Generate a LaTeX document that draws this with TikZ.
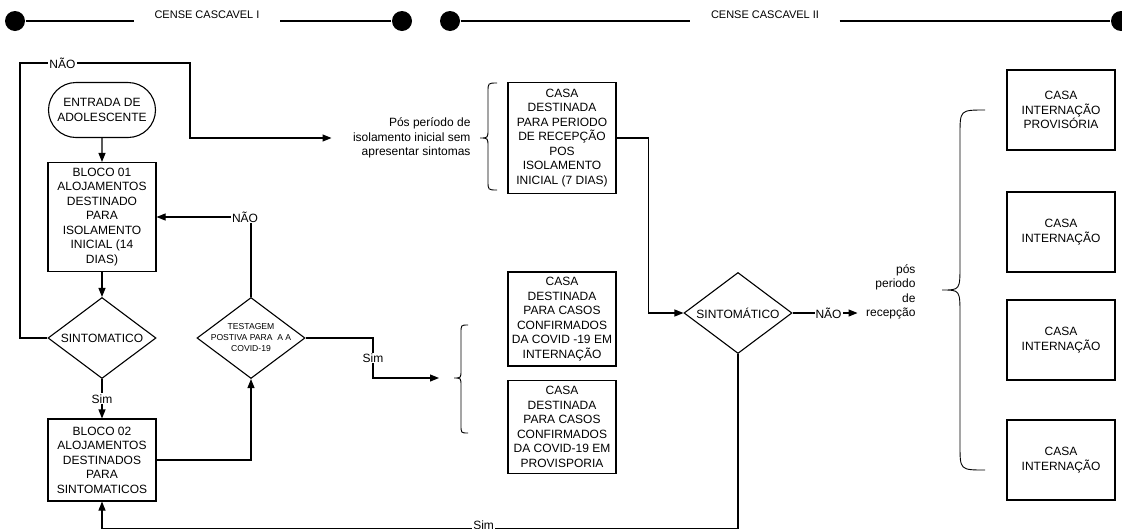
\documentclass[tikz,border=0pt]{standalone}
\usepackage{fontspec}
\setmainfont{Liberation Sans}
\usetikzlibrary{arrows.meta}
\usetikzlibrary{shapes.geometric,shapes.misc}

\begin{document}
\begin{tikzpicture}[x=1pt,y=-1pt,line width=1.1pt,
    font=\fontsize{12}{14.5}\selectfont,
    caixa/.style={draw,rectangle,align=center,minimum width=108pt,inner sep=1pt},
    decisao/.style={draw,diamond,aspect=1.33,minimum width=108pt,minimum height=81pt,inner sep=0pt},
    rotulo/.style={fill=white,inner sep=1pt},
    seta/.style={-{Triangle[length=9pt,width=7pt]}},
    chave/.style={line width=0.9pt},
    ponto/.style={circle,fill=black,minimum size=20pt,inner sep=0pt},
    cabec/.style={font=\fontsize{11}{13}\selectfont,inner xsep=20pt}]
    \useasboundingbox (0,0) rectangle (1122,528);

    % cabecalho
    \node[ponto] (p1) at (15,21) {};
    \node[ponto] (p2) at (402,21) {};
    \node[ponto] (p3) at (450,21) {};
    \node[ponto] (p4) at (1121,21) {};
    \node[cabec] (cab1) at (207,15) {CENSE CASCAVEL I};
    \node[cabec] (cab2) at (765,15) {CENSE CASCAVEL II};
    \draw (p1) -- (p1 -| cab1.west);
    \draw (cab1.east |- p2) -- (p2);
    \draw (p3) -- (p3 -| cab2.west);
    \draw (cab2.east |- p4) -- (p4);

    % cense cascavel I
    \node[draw,rounded rectangle,align=center,minimum width=109pt,minimum height=55pt,inner sep=1pt] (entrada) at (102,110) {ENTRADA DE\\ADOLESCENTE};
    \node[caixa,minimum height=109pt] (bloco1) at (102,217) {BLOCO 01\\ALOJAMENTOS\\DESTINADO\\PARA\\ISOLAMENTO\\INICIAL (14\\DIAS)};
    \node[decisao] (sint1) at (102,338) {SINTOMATICO};
    \node[caixa,minimum height=82pt] (bloco2) at (102,460) {BLOCO 02\\ALOJAMENTOS\\DESTINADOS\\PARA\\SINTOMATICOS};
    \node[decisao] (teste) at (251,338) {};
    \node[align=center,font=\fontsize{8.6}{11}\selectfont] (testetxt) at (teste) {TESTAGEM\\POSTIVA PARA~ A A\\COVID-19};

    \node[align=right,anchor=east,inner sep=1pt] (posiso) at (472,138) {Pós período de\\isolamento inicial sem\\apresentar sintomas};
    \node[caixa,minimum height=111pt] (casa1) at (562,138) {CASA\\DESTINADA\\PARA PERIODO\\DE RECEPÇÃO\\POS\\ISOLAMENTO\\INICIAL (7 DIAS)};
    \node[caixa,minimum height=94pt] (covid1) at (562,319) {CASA\\DESTINADA\\PARA CASOS\\CONFIRMADOS\\DA COVID -19 EM\\INTERNAÇÃO};
    \node[caixa,minimum height=93pt] (covid2) at (562,427) {CASA\\DESTINADA\\PARA CASOS\\CONFIRMADOS\\DA COVID-19 EM\\PROVISPORIA};
    \coordinate (pontaB) at (454,378);

    % cense cascavel II
    \node[decisao] (sint2) at (738,313) {SINTOMÁTICO};
    \node[align=right,anchor=east,inner sep=1pt] (posrec) at (917,292) {pós\\periodo\\de\\recepção};
    \node[caixa,minimum height=80pt] (int1) at (1061,110) {CASA\\INTERNAÇÃO\\PROVISÓRIA};
    \node[caixa,minimum height=80pt] (int2) at (1061,232) {CASA\\INTERNAÇÃO};
    \node[caixa,minimum height=80pt] (int3) at (1061,340) {CASA\\INTERNAÇÃO};
    \node[caixa,minimum height=80pt] (int4) at (1061,460) {CASA\\INTERNAÇÃO};

    % chaves
    \draw[chave] (497,83) .. controls (488,83) .. (488,92) -- (488,129) .. controls (488,138) .. (480,138)
        .. controls (488,138) .. (488,147) -- (488,181) .. controls (488,190) .. (497,190);
    \draw[chave] (468,325) .. controls (461,325) .. (461,333) -- (461,370) .. controls (461,378) .. (pontaB)
        .. controls (461,378) .. (461,386) -- (461,425) .. controls (461,433) .. (468,433);
    \draw[chave] (985,110) .. controls (960,110) .. (960,135) -- (960,265) .. controls (960,290) .. (942,290)
        .. controls (960,290) .. (960,315) -- (960,445) .. controls (960,470) .. (985,470);

    % setas
    \draw[seta] (entrada) -- (bloco1);
    \draw[seta] (bloco1) -- (sint1);
    \draw[seta] (sint1) -- node[rotulo]{Sim} (bloco2);
    \draw[seta] (bloco2.east) -| (teste.south);
    \draw[seta] (teste.north) |- node[rotulo,xshift=-6pt]{NÃO} (bloco1.east);
    \draw[seta,shorten >=20pt] (sint1.west) -| (20,63) -- node[rotulo,pos=.25]{NÃO} (190,63) |- (posiso.west);
    \draw[seta,shorten >=15pt] (teste.east) -| node[rotulo,pos=.75]{Sim} (373,378) -- (pontaB);
    \draw[seta] (casa1.east) -- ++(32,0) |- (sint2.west);
    \draw[seta,shorten >=7pt] (sint2.east) -- node[rotulo]{NÃO} (sint2.east -| posrec.west);
    \draw[seta] (sint2.south) -- ++(0,174) -| node[rotulo,pos=.2,yshift=3pt]{Sim} (bloco2.south);

\end{tikzpicture}
\end{document}
